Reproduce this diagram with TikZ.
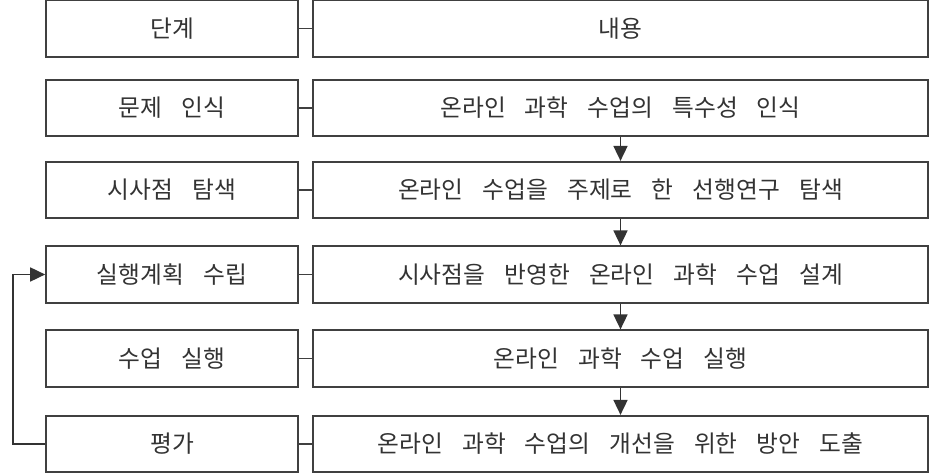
\documentclass[tikz,border=0pt]{standalone}
\usepackage{fontspec}
\setmainfont[WordSpace=3.6]{Noto Sans CJK KR}
\usepackage{tikz}
\usetikzlibrary{arrows.meta,calc}

\tikzset{
  stepbox/.style={draw=black!75,line width=1pt,fill=white,minimum width=5.04cm,minimum height=1.13cm,inner sep=0pt,text=black!80},
  workbox/.style={draw=black!75,line width=1pt,fill=white,minimum width=12.3cm,minimum height=1.13cm,inner sep=0pt,text=black!80},
  flow/.style={draw=black!80,line width=0.8pt,-{Triangle[width=8pt,length=8.5pt]}}
}

\begin{document}
\begin{tikzpicture}[x=0.02cm,y=-0.02cm,font=\fontsize{13.5}{16}\selectfont]
  \useasboundingbox (0,0) rectangle (929,475);
  \foreach \i/\y/\s/\c in {1/28.5/단계/내용, 2/108/문제 인식/온라인 과학 수업의 특수성 인식, 3/190/시사점 탐색/온라인 수업을 주제로 한 선행연구 탐색, 4/274.5/실행계획 수립/시사점을 반영한 온라인 과학 수업 설계, 5/358.5/수업 실행/온라인 과학 수업 실행, 6/444/평가/온라인 과학 수업의 개선을 위한 방안 도출}{
    \node[stepbox] (s\i) at (172,\y){\s};
    \node[workbox] (c\i) at (620.5,\y){\c};
    \draw[black!75,line width=1pt] (s\i) -- (c\i);
  }
  \foreach \i/\j in {2/3,3/4,4/5,5/6}
    \draw[flow] (c\i.south) -- (c\j.north);
  % back to the plan
  \draw[flow] (s6.west) -- ++(-32,0) |- (s4.west);
\end{tikzpicture}
\end{document}
